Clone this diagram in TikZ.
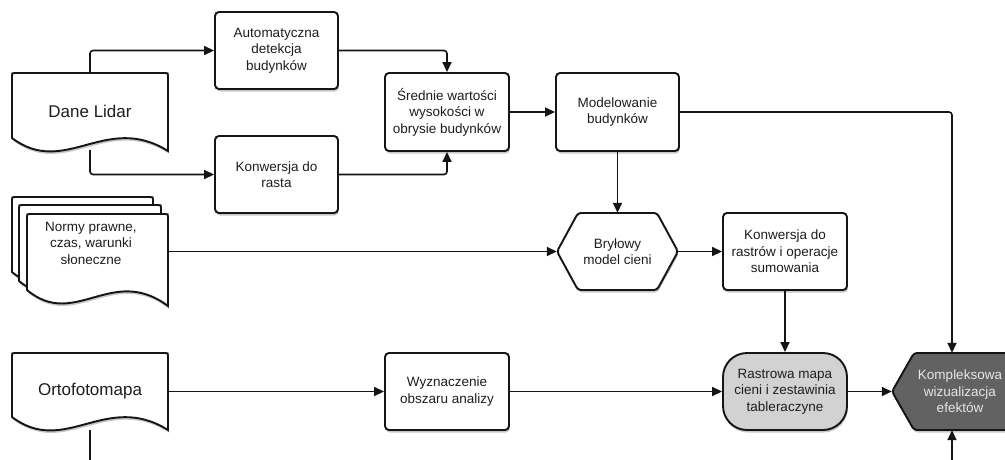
\documentclass[tikz,border=0pt]{standalone}
\usepackage{fontspec}
\setmainfont{Liberation Sans}
\usetikzlibrary{arrows.meta,shadows,backgrounds,calc}
\definecolor{ink}{HTML}{151515}
\definecolor{txt}{HTML}{1E1E1E}
\definecolor{lgray}{HTML}{D2D2D2}
\definecolor{dgray}{HTML}{626262}
\definecolor{ltxt}{HTML}{E6E6E6}
\tikzset{
  shad/.style={drop shadow={shadow xshift=0.8pt,shadow yshift=-2.5pt,opacity=0.22,fill=black}},
  procbox/.style={draw=ink, line width=1.9pt, fill=white, rounded corners=4pt,
    minimum width=123pt, minimum height=77pt, inner sep=0pt, align=center,
    text=txt, font=\fontsize{13.5}{16.5}\selectfont, shad},
  lbl/.style={inner sep=0pt, align=center, text=txt, font=\fontsize{13.5}{16.5}\selectfont},
  bigtxt/.style={inner sep=0pt, text=txt, font=\fontsize{17}{20}\selectfont},
  anchorbox/.style={draw=none, fill=none, inner sep=0pt},
  docshape/.style={draw=ink, line width=1.9pt, fill=white, shad},
  conn/.style={draw=ink, line width=1.6pt, rounded corners=3pt},
  arr/.style={conn, -{Triangle[length=10pt,width=9pt]}},
}
% L R T B depth
\newcommand\mydoc[5]{%
  \path[docshape] (#1,#4) -- (#1,{#3+3}) .. controls (#1,#3) .. ({#1+3},#3)
    -- ({#2-3},#3) .. controls (#2,#3) .. (#2,{#3+3})
    -- (#2,{#4+#5}) .. controls ({#1+0.6*(#2-#1)},{#4-26}) and ({#1+0.34*(#2-#1)},{#4+40}) .. (#1,#4) -- cycle;}
\begin{document}
\begin{tikzpicture}[x=1pt,y=-1pt]
\useasboundingbox (0,0) rectangle (1005,459);

% document shapes
\mydoc{12}{168}{73}{138}{13}
\mydoc{12}{153}{197}{272}{15}
\mydoc{19}{161}{205}{281}{15}
\mydoc{27}{168}{214}{290}{16}
\mydoc{12}{168}{353}{417}{13}

% hexagon
\path[docshape, rounded corners=3pt] (578,213) -- (657,213) -- (678,251.5) -- (657,290) -- (578,290) -- (557,251.5) -- cycle;
% Kompleksowa shape
\path[draw=ink, fill=dgray, line width=1.9pt, shad, rounded corners=3pt] (892,391.5) -- (914,353) -- (1030,353) -- (1030,430) -- (914,430) -- cycle;

% nodes
\node[anchorbox, bigtxt, minimum width=156pt, minimum height=77pt] (lidar) at (90,111.5) {Dane Lidar};
\node[anchorbox, bigtxt, minimum width=156pt, minimum height=77pt] (orto) at (90,391.5) {Ortofotomapa};
\node[anchorbox, minimum width=141pt, minimum height=76pt] (normybox) at (97.5,251.5) {};
\node[lbl] (normy) at (91,243) {Normy prawne,\\czas, warunki\\słoneczne};

\node[procbox] (auto) at (276.5,50.5) {Automatyczna\\detekcja\\budynków};
\node[procbox] (konw) at (276.5,174.5) {Konwersja do\\rasta};
\node[procbox, minimum width=124pt, minimum height=78pt] (sred) at (447,112) {Średnie wartości\\wysokości w\\obrysie budynków};
\node[procbox, minimum height=78pt] (model) at (617.5,112) {Modelowanie\\budynków};
\node[anchorbox, lbl, minimum width=121pt, minimum height=77pt] (bryl) at (617.5,251.5) {Bryłowy\\model cieni};
\node[procbox, minimum width=124pt] (rast) at (785,251.5) {Konwersja do\\rastrów i operacje\\sumowania};
\node[procbox, minimum width=124pt, rounded corners=24pt, fill=lgray] (rmap) at (785,391.5) {Rastrowa mapa\\cieni i zestawinia\\tableraczyne};
\node[procbox, minimum width=124pt] (wyzn) at (447,391.5) {Wyznaczenie\\obszaru analizy};
\node[anchorbox, minimum width=120pt, minimum height=77pt] (komp) at (952,391.5) {};
\node[lbl, text=ltxt] (komptext) at (960,391.5) {Kompleksowa\\wizualizacja\\efektów};

\coordinate (kompin) at (952,470);
\coordinate (ortoout) at (90,470);

\begin{scope}[on background layer]
\fill[white] (0,0) rectangle (1005,459);
\draw[arr] (lidar.north) |- (auto.west);
\draw[arr] (lidar.south) |- (konw.west);
\draw[arr] (auto.east) -| (sred.north);
\draw[arr] (konw.east) -| (sred.south);
\draw[arr] (sred.east) -- (model.west);
\draw[arr] (model.east) -| (komp.north);
\draw[arr] (model.south) -- (bryl.north);
\draw[arr] (normybox.east) -- (bryl.west);
\draw[arr] (bryl.east) -- (rast.west);
\draw[arr] (rast.south) -- (rmap.north);
\draw[arr] (rmap.east) -- (komp.west);
\draw[arr] (kompin) -- (komp.south);
\draw[arr] (orto.east) -- (wyzn.west);
\draw[arr] (wyzn.east) -- (rmap.west);
\draw[conn] (orto.south) -- (ortoout);
\end{scope}
\end{tikzpicture}
\end{document}
